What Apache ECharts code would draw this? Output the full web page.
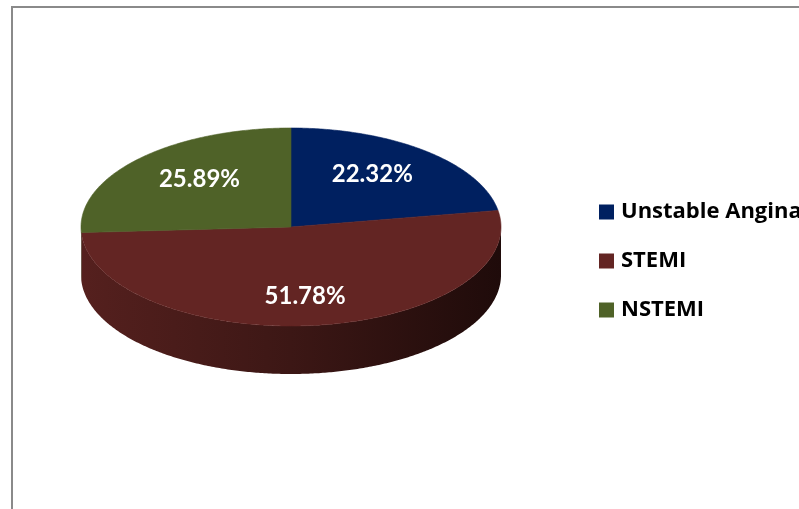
<!DOCTYPE html>
<html>
<head>
<meta charset="utf-8">
<script src="https://cdn.jsdelivr.net/npm/echarts@6/dist/echarts.min.js"></script>
<style>
  html, body { margin: 0; padding: 0; background: #fff; }
  #main { width: 799px; height: 509px; }
</style>
</head>
<body>
<div id="main"></div>
<script>
// 数据
const categories = ['Unstable Angina', 'STEMI', 'NSTEMI'];
const values = [22.32, 51.78, 25.89];

// 颜色
const topColors = ['#002060', '#632523', '#4f6228'];
const sideColors = [
    ['#00184a', '#000c26'],
    ['#55201e', '#3c1715', '#1f0b0a'],
    ['#3e4d1f', '#2a3415']
];

// 椭圆饼布局
let pie = { cx: 291, cy: 227, rx: 210, ry: 99, depth: 48 };

let total = values.reduce((a, b) => a + b, 0);
let starts = [];
values.reduce((acc, v, i) => { starts[i] = acc; return acc + v; }, 0);

function pt(a, dy) {
    return [pie.cx + pie.rx * Math.sin(a), pie.cy - pie.ry * Math.cos(a) + (dy || 0)];
}

function arc(a0, a1, dy) {
    let pts = [];
    let n = Math.max(2, Math.ceil((a1 - a0) / 0.01));
    for (let k = 0; k <= n; k++) {
        pts.push(pt(a0 + (a1 - a0) * k / n, dy));
    }
    return pts;
}

function stops(list) {
    return list.map((c, k) => ({ offset: k / (list.length - 1), color: c }));
}

/*
 * @method makeRender: 绘制一个扇区（侧面 + 顶面 + 标签）
 * @param {Number} i: 分类序号
 */
function makeRender(i) {
    return function (params, api) {
        let v = api.value(0);
        let a0 = starts[i] / total * Math.PI * 2;
        let a1 = (starts[i] + v) / total * Math.PI * 2;
        let children = [];

        // 侧面：只画前半圈
        let s0 = Math.max(a0, Math.PI / 2), s1 = Math.min(a1, Math.PI * 3 / 2);
        if (s1 > s0) {
            let pts = arc(s0, s1, 0).concat(arc(s0, s1, pie.depth).reverse());
            children.push({
                type: 'polygon',
                shape: { points: pts },
                style: {
                    fill: new echarts.graphic.LinearGradient(0, 0, 1, 0, stops(sideColors[i])),
                    stroke: null
                }
            });
        }

        // 顶面
        let top = [[pie.cx, pie.cy]].concat(arc(a0, a1, 0));
        children.push({
            type: 'polygon',
            shape: { points: top },
            style: { fill: topColors[i], stroke: topColors[i], lineWidth: 0.6 }
        });

        // 标签
        let mid = (a0 + a1) / 2;
        children.push({
            type: 'text',
            style: {
                x: pie.cx + pie.rx * 0.6 * Math.sin(mid),
                y: pie.cy - pie.ry * 0.7 * Math.cos(mid),
                text: v.toFixed(2) + '%',
                fill: '#fff',
                font: 'bold 24px Lato, "Open Sans", sans-serif',
                align: 'center',
                verticalAlign: 'middle'
            }
        });

        return { type: 'group', children: children };
    };
}

let series = categories.map((name, i) => ({
    type: 'custom',
    name: name,
    coordinateSystem: 'none',
    itemStyle: { color: topColors[i] },
    renderItem: makeRender(i),
    data: [[values[i]]],
    silent: true
}));

let myChart = echarts.init(document.getElementById('main'));
myChart.setOption({
    animation: false,
    legend: {
        orient: 'vertical',
        left: 599,
        top: 201,
        padding: 0,
        icon: 'rect',
        itemWidth: 15,
        itemHeight: 15,
        itemGap: 27,
        textStyle: {
            color: '#000',
            fontFamily: '"Open Sans", Lato, sans-serif',
            fontWeight: 'bold',
            fontSize: 22,
            lineHeight: 22,
            padding: [0, 0, 0, 2]
        },
        data: categories
    },
    graphic: [{
        type: 'rect',
        shape: { x: 12, y: 7, width: 900, height: 600 },
        style: { fill: null, stroke: '#8a8a8a', lineWidth: 2 },
        z: -10
    }],
    series: series
});
</script>
</body>
</html>
